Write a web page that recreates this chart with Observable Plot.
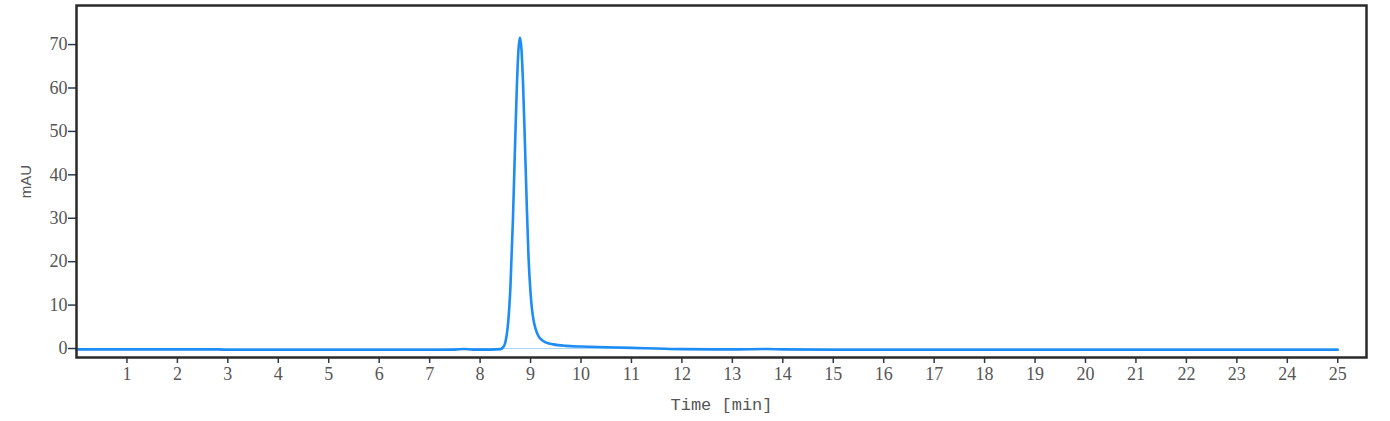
<!DOCTYPE html>
<html>
<head>
<meta charset="utf-8">
<script src="https://cdn.jsdelivr.net/npm/d3@7"></script>
<script src="https://cdn.jsdelivr.net/npm/@observablehq/plot@0.6"></script>
<style>
  html, body { margin: 0; padding: 0; background: #ffffff; }
  #chart svg { display: block; }
</style>
</head>
<body>
<div id="chart"></div>
<script>
// Retention time (min) and detector signal (mAU)
const time = [0, 1, 2, 2.8, 3, 4, 5, 6, 7, 7.5, 7.68, 7.85, 8.2, 8.4, 8.45, 8.5, 8.55, 8.6, 8.65, 8.7, 8.73, 8.76, 8.79, 8.82, 8.85, 8.88, 8.92, 8.96, 9.0, 9.03, 9.06, 9.1, 9.15, 9.2, 9.3, 9.45, 9.7, 10, 10.5, 11, 11.5, 12, 13, 13.7, 14, 15, 16, 17, 18, 19, 20, 21, 22, 23, 24, 25];
const mAU  = [-0.2, -0.2, -0.2, -0.2, -0.3, -0.3, -0.3, -0.3, -0.3, -0.25, -0.1, -0.25, -0.25, -0.15, 0.2, 1.4, 5.2, 13.9, 29.4, 49.6, 60.8, 68.7, 71.6, 68.9, 61.4, 50.6, 35.0, 21.0, 12.8, 8.9, 6.5, 4.5, 3.0, 2.2, 1.4, 0.95, 0.6, 0.45, 0.3, 0.15, 0.0, -0.15, -0.2, -0.12, -0.2, -0.3, -0.3, -0.3, -0.3, -0.3, -0.3, -0.3, -0.3, -0.3, -0.3, -0.3];
const baselineTime = [0, 25];
const baselineValue = [0, 0];
const xTicks = d3.range(1, 26);
const yTicks = [0, 10, 20, 30, 40, 50, 60, 70];

const data = time.map((t, i) => ({t, v: mAU[i]}));
const base = baselineTime.map((t, i) => ({t, v: baselineValue[i]}));

const chart = Plot.plot({
  width: 1390,
  height: 421,
  marginLeft: 76,
  marginRight: 24,
  marginTop: 5,
  marginBottom: 64,
  style: {background: "#ffffff", color: "#333"},
  x: {domain: [0, 25.57]},
  y: {domain: [-2.07, 79]},
  marks: [
    Plot.line(base, {x: "t", y: "v", stroke: "#a9d2f7", strokeWidth: 1}),
    Plot.line(data, {x: "t", y: "v", stroke: "#1e8cf5", strokeWidth: 2.6, curve: "monotone-x"}),
    Plot.axisX({
      ticks: xTicks, tickFormat: d => String(d), tickSize: 6, tickPadding: 4,
      stroke: "#2c3a4c", strokeWidth: 1.5,
      fontSize: 18, fontFamily: "Liberation Serif", fill: "#555",
      label: "Time [min]", labelAnchor: "center", labelArrow: "none", labelOffset: 52
    }),
    Plot.axisY({
      ticks: yTicks, tickFormat: d => String(d), tickSize: 8, tickPadding: 1,
      stroke: "#2c3a4c", strokeWidth: 1.5,
      fontSize: 18, fontFamily: "Liberation Serif", fill: "#555",
      label: "mAU", labelAnchor: "center", labelArrow: "none", labelOffset: 56
    }),
    Plot.frame({stroke: "#2a2a2a", strokeWidth: 2.5})
  ]
});

// Style axis labels
d3.select(chart).selectAll("g[aria-label='x-axis label'] text")
  .attr("font-family", "Liberation Mono").attr("font-size", 17).attr("fill", "#555");
d3.select(chart).selectAll("g[aria-label='y-axis label'] text")
  .attr("font-family", "Liberation Sans").attr("font-size", 15).attr("fill", "#555");

document.getElementById("chart").appendChild(chart);
</script>
</body>
</html>
